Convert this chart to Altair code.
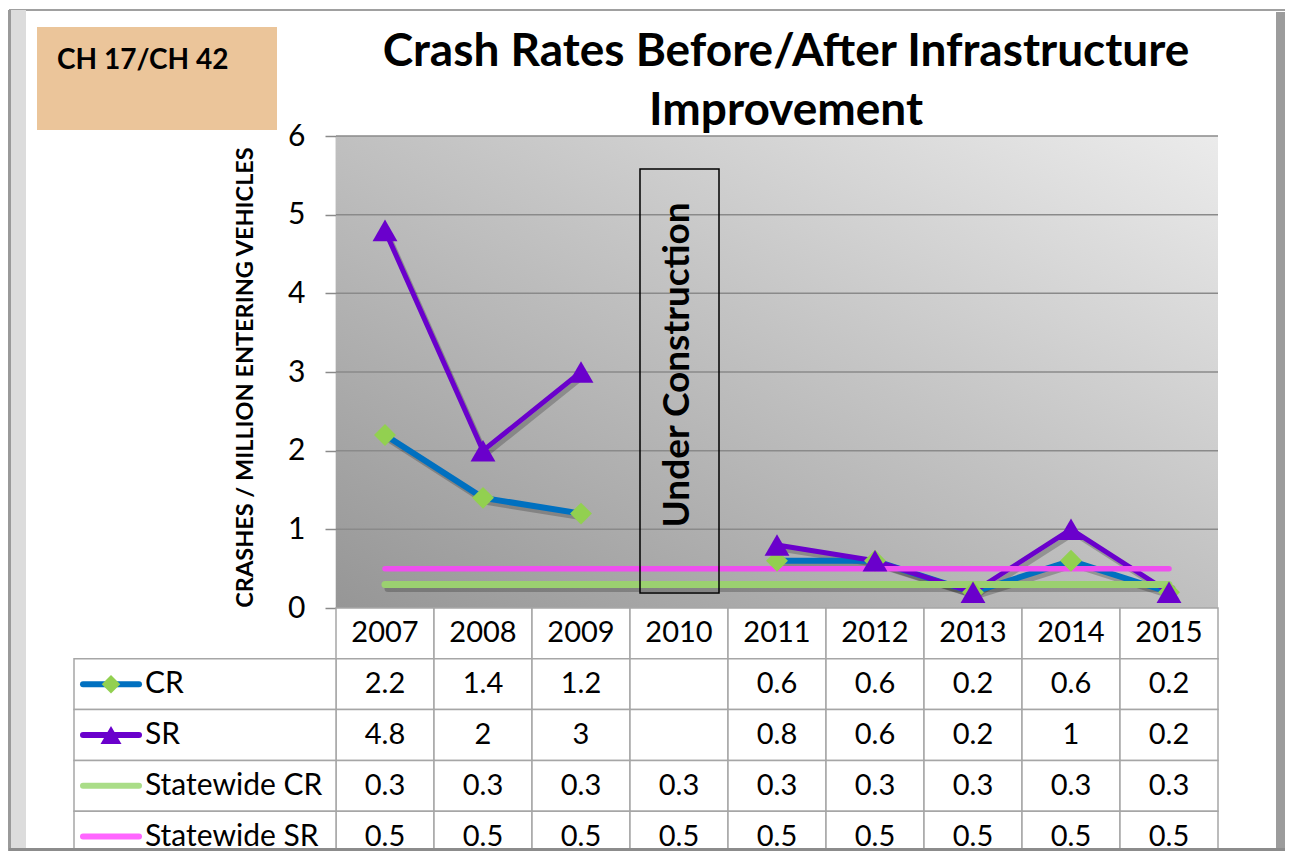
import altair as alt
import pandas as pd

years = ["2007", "2008", "2009", "2010", "2011", "2012", "2013", "2014", "2015"]
cr = [2.2, 1.4, 1.2, None, 0.6, 0.6, 0.2, 0.6, 0.2]
sr = [4.8, 2, 3, None, 0.8, 0.6, 0.2, 1, 0.2]
st_cr = [0.3, 0.3, 0.3, 0.3, 0.3, 0.3, 0.3, 0.3, 0.3]
st_sr = [0.5, 0.5, 0.5, 0.5, 0.5, 0.5, 0.5, 0.5, 0.5]
series_names = ["CR", "SR", "Statewide CR", "Statewide SR"]
y_ticks = [0, 1, 2, 3, 4, 5, 6]

FONT = "Lato"
C_CR_LINE = "#0070C0"
C_CR_MARK = "#92D050"
C_SR = "#6A00CC"
C_STCR = "#9BD070"
C_STSR = "#EE4FEE"

W, H = 882, 472

# ---- long data for the series
recs = []
for name, vals in zip(series_names, [cr, sr, st_cr, st_sr]):
    seg = 0
    for yr, v in zip(years, vals):
        if v is None:
            seg += 1
            continue
        recs.append({"series": name, "year": yr, "value": v, "seg": seg})
df = pd.DataFrame(recs)

# ---- table data
trecs = [{"row": "header", "year": yr, "label": yr} for yr in years]
for name, vals in zip(series_names, [cr, sr, st_cr, st_sr]):
    for yr, v in zip(years, vals):
        trecs.append({"row": name, "year": yr, "label": "" if v is None else f"{v:g}"})
tdf = pd.DataFrame(trecs)
legdf = pd.DataFrame({"row": series_names})

xscale = alt.Scale(type="band", domain=years, paddingInner=0, paddingOuter=0)
yscale = alt.Scale(domain=[0, 6], nice=False, zero=True)
rowscale = alt.Scale(type="band", domain=["header"] + series_names,
                     range=[472, 726], paddingInner=0, paddingOuter=0)

one = pd.DataFrame({"a": [0]})


def deco_rect(x, x2, y, y2, fill=None, stroke=None, sw=1):
    kw = {}
    if fill is not None:
        kw["fill"] = fill
    else:
        kw["fill"] = "transparent"
    if stroke is not None:
        kw["stroke"] = stroke
        kw["strokeWidth"] = sw
    return alt.Chart(one).mark_rect(**kw).encode(
        x=alt.value(x), x2=alt.value(x2), y=alt.value(y), y2=alt.value(y2))


def deco_text(txt, x, y, size, weight="normal", align="left", angle=0, baseline="middle"):
    kw = dict(text=txt, font=FONT, fontSize=size, fontWeight=weight, align=align,
              baseline=baseline, color="black")
    if angle:
        kw["angle"] = angle
    return alt.Chart(one).mark_text(**kw).encode(x=alt.value(x), y=alt.value(y))


grad = alt.LinearGradient(
    gradient="linear",
    stops=[alt.GradientStop(color="#969696", offset=0),
           alt.GradientStop(color="#c4c4c4", offset=0.55),
           alt.GradientStop(color="#ebebeb", offset=1)],
    x1=0, y1=1, x2=1, y2=0)

background = alt.Chart(one).mark_rect(fill=grad).encode(
    x=alt.value(0), x2=alt.value(W), y=alt.value(0), y2=alt.value(H))

grid = alt.Chart(pd.DataFrame({"v": y_ticks[1:]})).mark_rule(
    color="#8a8a8a", strokeWidth=1.5).encode(
    y=alt.Y("v:Q", scale=yscale, axis=None),
    x=alt.value(0), x2=alt.value(W))

xenc = alt.X("year:O", scale=xscale, axis=None, bandPosition=0.5)

main_axis = alt.Axis(values=y_ticks, grid=False, labelFont=FONT, labelFontSize=30,
                     labelColor="black", labelPadding=20, tickSize=11, tickColor="#8a8a8a",
                     tickWidth=1.5, domainColor="#8a8a8a", domainWidth=1.5,
                     title="CRASHES / MILLION ENTERING VEHICLES", titleFont=FONT,
                     titleFontSize=23.5, titleFontWeight="bold", titleColor="black",
                     titleAngle=270, titleX=-91, titleY=241, titleAlign="center",
                     titleBaseline="middle")


def series_line(name, color, width, cap="butt", shadow=False):
    kw = dict(strokeWidth=width, strokeCap=cap, strokeJoin="round")
    if shadow:
        kw.update(color="black", opacity=0.22, xOffset=3, yOffset=4)
    else:
        kw.update(color=color)
    return alt.Chart(df[df.series == name]).mark_line(**kw).encode(
        x=xenc, y=alt.Y("value:Q", scale=yscale, axis=main_axis if name == "CR" and not shadow else None),
        detail="seg:N")


lines = [
    series_line("Statewide CR", C_STCR, 7, "round", True),
    series_line("CR", C_CR_LINE, 6, "butt", True),
    series_line("SR", C_SR, 5, "butt", True),
    series_line("CR", C_CR_LINE, 6),
    series_line("SR", C_SR, 5),
    series_line("Statewide CR", C_STCR, 7, "round"),
    series_line("Statewide SR", C_STSR, 5.5, "round"),
]

cr_pts = alt.Chart(df[df.series == "CR"]).mark_point(
    shape="diamond", filled=True, size=480, color=C_CR_MARK, opacity=1).encode(
    x=xenc, y=alt.Y("value:Q", scale=yscale, axis=None))
sr_pts = alt.Chart(df[df.series == "SR"]).mark_point(
    shape="triangle-up", filled=True, size=620, color=C_SR, opacity=1).encode(
    x=xenc, y=alt.Y("value:Q", scale=yscale, axis=None))

# ---- table
cells = alt.Chart(tdf).mark_rect(fill="white", stroke="#a6a6a6", strokeWidth=1.5).encode(
    x=alt.X("year:O", scale=xscale, axis=None),
    y=alt.Y("row:N", scale=rowscale, axis=None))
leg_cells = alt.Chart(legdf).mark_rect(fill="white", stroke="#a6a6a6", strokeWidth=1.5).encode(
    x=alt.value(-262), x2=alt.value(0),
    y=alt.Y("row:N", scale=rowscale, axis=None))
cell_text = alt.Chart(tdf).mark_text(font=FONT, fontSize=29, color="black",
                                     baseline="middle", align="center").encode(
    x=alt.X("year:O", scale=xscale, axis=None, bandPosition=0.5),
    y=alt.Y("row:N", scale=rowscale, axis=None),
    text="label:N")
leg_colors = alt.Scale(domain=series_names, range=[C_CR_LINE, C_SR, "#AADD88", "#FF66FF"])
leg_lines = alt.Chart(legdf).mark_rule(strokeWidth=6, strokeCap="round").encode(
    x=alt.value(-253), x2=alt.value(-197),
    y=alt.Y("row:N", scale=rowscale, axis=None),
    color=alt.Color("row:N", scale=leg_colors, legend=None))
leg_dia = alt.Chart(legdf[legdf.row == "CR"]).mark_point(
    shape="diamond", filled=True, size=340, color=C_CR_MARK, opacity=1).encode(
    x=alt.value(-225), y=alt.Y("row:N", scale=rowscale, axis=None))
leg_tri = alt.Chart(legdf[legdf.row == "SR"]).mark_point(
    shape="triangle-up", filled=True, size=440, color=C_SR, opacity=1).encode(
    x=alt.value(-225), y=alt.Y("row:N", scale=rowscale, axis=None))
leg_text = alt.Chart(legdf).mark_text(font=FONT, fontSize=30, color="black",
                                      baseline="middle", align="left").encode(
    x=alt.value(-191), y=alt.Y("row:N", scale=rowscale, axis=None), text="row:N")

# ---- annotations
uc_box = deco_rect(304, 383, 33, 457, stroke="black", sw=1.5)
uc_text = deco_text("Under Construction", 342, 229, 37, "bold", "center", 270)
title1 = deco_text("Crash Rates Before/After Infrastructure", 450, -84, 46, "bold", "center")
title2 = deco_text("Improvement", 450, -25, 46, "bold", "center")
tag_box = deco_rect(-299, -59, -109, -6, fill="#EBC59A")
tag_text = deco_text("CH 17/CH 42", -279, -75, 28, "bold", "left")

# ---- frame
frame = [
    deco_rect(-327, 949, -127, -125, fill="#a0a0a0"),
    deco_rect(-327, -310, -126, 720, fill="#dcdcdc"),
    deco_rect(-328, -325, -126, 720, fill="#9a9a9a"),
    deco_rect(940, 949, -124, 720, fill="#9c9c9c"),
    deco_rect(-327, 949, 712, 720, fill="#8c8c8c"),
]

chart = alt.layer(
    background, grid,
    *lines, cr_pts, sr_pts,
    uc_box, uc_text,
    cells, leg_cells, cell_text, leg_lines, leg_dia, leg_tri, leg_text,
    title1, title2, tag_box, tag_text,
    *frame,
).resolve_scale(y="independent").properties(
    width=W, height=H,
    padding={"left": 328, "top": 128, "right": 67, "bottom": 243},
    autosize=alt.AutoSizeParams(type="none"),
    background="white",
).configure_view(strokeWidth=0)

chart.save("out.html", embed_options={"renderer": "svg", "actions": False})
